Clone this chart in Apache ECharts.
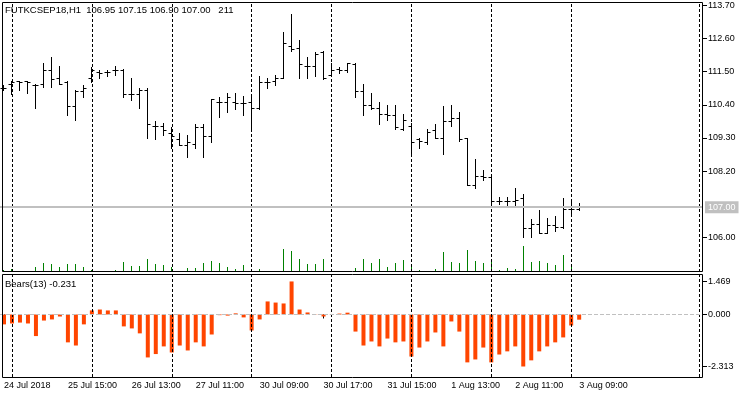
<!DOCTYPE html>
<html>
<head>
<meta charset="utf-8">
<script src="https://cdn.jsdelivr.net/npm/echarts@6/dist/echarts.min.js"></script>
<style>
  html, body { margin: 0; padding: 0; background: #fff; }
  #chart { width: 750px; height: 398px; }
</style>
</head>
<body>
<div id="chart"></div>
<script>
// 行情数据 (H1)
const symbol = 'FUTKCSEP18,H1'
const openP = [110.95, 111.10, 111.20, 111.20, 111.05, 111.10, 111.55, 111.30, 111.15, 110.35,
  110.85, 111.30, 111.50, 111.50, 111.55, 111.55, 110.75, 110.75, 110.90, 109.70,
  109.70, 109.45, 109.25, 109.05, 109.10, 109.65, 109.35, 110.50, 110.50, 110.50,
  110.45, 110.50, 110.30, 111.15, 111.20, 111.30, 112.35, 112.30, 111.70, 111.70,
  112.15, 111.40, 111.60, 111.55, 111.75, 110.85, 110.40, 110.30, 110.10, 110.05,
  109.60, 109.70, 109.25, 109.15, 109.55, 109.30, 109.85, 109.95, 109.30, 107.75,
  108.05, 108.00, 107.20, 107.20, 107.20, 107.30, 106.30, 106.45, 106.15, 106.40,
  106.35, 106.95, 106.95]
const highP = [111.05, 111.20, 111.20, 111.20, 111.10, 111.80, 112.00, 111.70, 111.20, 110.90,
  111.05, 111.65, 111.55, 111.55, 111.70, 111.60, 111.30, 110.95, 110.95, 109.85,
  109.80, 109.65, 109.45, 109.40, 109.75, 109.75, 110.60, 110.65, 110.80, 110.80,
  110.70, 110.65, 111.35, 111.30, 111.40, 112.80, 113.40, 112.55, 112.00, 112.15,
  112.20, 111.80, 111.65, 111.80, 111.80, 111.10, 110.80, 110.50, 110.40, 110.40,
  110.10, 109.80, 109.30, 109.60, 109.75, 110.35, 110.40, 110.15, 109.30, 108.60,
  108.25, 108.05, 107.35, 107.35, 107.65, 107.45, 106.60, 106.90, 106.65, 106.70,
  107.30, 107.20, 107.15]
const lowP = [110.90, 110.75, 110.90, 110.80, 110.30, 111.00, 111.00, 111.10, 110.05, 109.90,
  110.65, 111.15, 111.30, 111.35, 111.40, 110.65, 110.55, 110.30, 109.30, 109.25,
  109.40, 108.95, 109.05, 108.65, 108.95, 108.65, 109.15, 110.00, 110.15, 110.25,
  110.05, 109.55, 110.25, 110.95, 111.05, 111.30, 112.20, 111.30, 111.30, 111.35,
  111.25, 111.40, 111.45, 111.50, 110.65, 110.05, 110.25, 109.75, 109.90, 109.60,
  109.55, 108.80, 108.95, 109.10, 109.30, 108.75, 109.70, 109.20, 107.75, 107.65,
  107.90, 107.15, 107.10, 107.00, 107.05, 106.00, 106.00, 106.15, 106.15, 106.20,
  106.30, 106.70, 106.90]
const closeP = [110.95, 111.15, 111.15, 111.15, 111.05, 111.55, 111.25, 111.10, 110.35, 110.85,
  110.95, 111.55, 111.45, 111.50, 111.55, 110.75, 110.75, 110.90, 109.75, 109.70,
  109.55, 109.35, 109.05, 109.15, 109.65, 109.35, 110.60, 110.50, 110.65, 110.45,
  110.45, 110.30, 111.15, 111.15, 111.30, 112.45, 112.25, 111.75, 111.70, 112.10,
  111.30, 111.55, 111.55, 111.80, 110.85, 110.40, 110.30, 110.10, 110.05, 109.65,
  109.90, 109.15, 109.20, 109.50, 109.30, 109.85, 109.95, 109.25, 107.75, 108.05,
  108.00, 107.20, 107.20, 107.20, 107.25, 106.30, 106.45, 106.15, 106.40, 106.35,
  106.95, 106.95, 107.00]
const volumes = [380, 560, 190, 230, 950, 1720, 1530, 960, 1510, 1540,
  940, 390, 90, 200, 380, 1900, 1150, 1130, 2470, 1520,
  1330, 960, 180, 760, 770, 1710, 2090, 1700, 950, 570,
  1330, 580, 560, 190, 210, 4370, 3990, 2480, 1520, 1510,
  2470, 190, 100, 200, 760, 2460, 1710, 2470, 950, 1720,
  2280, 1330, 380, 190, 570, 3800, 1900, 1710, 4180, 2090,
  1710, 2280, 380, 760, 570, 4940, 1900, 2090, 1710, 1330,
  3230, 1140, 211]
// Bears Power(13)
const bears = [-0.44, -0.40, -0.36, -0.40, -0.96, -0.27, -0.22, -0.09, -1.24, -1.38,
  -0.44, 0.18, 0.22, 0.18, 0.18, -0.53, -0.62, -0.84, -1.91, -1.76,
  -1.42, -1.69, -1.38, -1.60, -1.24, -1.42, -0.89, -0.03, -0.05, 0.05,
  -0.13, -0.71, -0.22, 0.58, 0.53, 0.49, 1.469, 0.22, 0.09, 0.01,
  -0.09, 0.01, 0.04, 0.08, -0.76, -1.38, -1.20, -1.42, -1.07, -1.24,
  -1.20, -1.87, -1.47, -1.20, -0.80, -1.42, -0.31, -0.76, -2.13, -2.00,
  -1.47, -2.13, -1.78, -1.64, -1.42, -2.313, -2.04, -1.64, -1.42, -1.24,
  -1.02, -0.49, -0.231]
// 时间轴刻度
const tickIdx = [0, 8, 16, 24, 32, 40, 48, 56, 64, 72]
const tickLabels = ['24 Jul 2018', '25 Jul 15:00', '26 Jul 13:00', '27 Jul 11:00', '30 Jul 09:00',
  '30 Jul 17:00', '31 Jul 15:00', '1 Aug 13:00', '2 Aug 11:00', '3 Aug 09:00']
const gridIdx = [1, 11, 21, 31, 41, 51, 61, 71, 87]
const priceTicks = [106.00, 108.20, 109.30, 110.40, 111.50, 112.60, 113.70]
const bearsTicks = [1.469, 0, -2.313]
const slotCount = 88

const font = 'Liberation Sans, Arial, sans-serif'
const slots = Array.from({ length: slotCount }, (_, i) => String(i))
const last = closeP.length - 1
const header = symbol + '  ' + [openP[last], highP[last], lowP[last], closeP[last]]
  .map(v => v.toFixed(2)).join(' ') + '   ' + volumes[last]

const chart = echarts.init(document.getElementById('chart'))

// 竖向虚线网格
const gridLines = {
  silent: true,
  symbol: 'none',
  label: { show: false },
  lineStyle: { color: '#000', width: 1, type: [3, 2] },
  data: gridIdx.map(i => ({ xAxis: i }))
}

const option = {
  animation: false,
  backgroundColor: '#fff',
  textStyle: { fontFamily: font },
  title: [
    {
      text: header, left: 5, top: 5, padding: 0,
      textStyle: { fontSize: 9.5, fontWeight: 'normal', color: '#000', fontFamily: font }
    },
    {
      text: 'Bears(13) ' + bears[last].toFixed(3), left: 5, top: 279, padding: 0,
      textStyle: { fontSize: 9.5, fontWeight: 'normal', color: '#000', fontFamily: font }
    }
  ],
  grid: [
    { left: -1, top: 2, width: 704, height: 270 },
    { left: -1, top: 274, width: 704, height: 103 }
  ],
  xAxis: [
    {
      type: 'category', gridIndex: 0, data: slots,
      axisLine: { show: false }, axisTick: { show: false }, axisLabel: { show: false }, splitLine: { show: false }
    },
    {
      type: 'category', gridIndex: 1, data: slots,
      axisLine: { show: false },
      axisTick: {
        show: true, alignWithLabel: true, length: 4,
        interval: (idx) => tickIdx.includes(idx),
        lineStyle: { color: '#000' }
      },
      axisLabel: {
        interval: (idx) => tickIdx.includes(idx),
        formatter: (v) => {
          const k = tickIdx.indexOf(Number(v))
          return k >= 0 ? tickLabels[k] : ''
        },
        align: 'left', margin: 4, fontSize: 9, color: '#000', fontFamily: font
      },
      splitLine: { show: false }
    }
  ],
  yAxis: [
    {
      type: 'value', gridIndex: 0, position: 'right', min: 104.85, max: 113.81,
      axisLine: { show: false },
      axisTick: { show: true, length: 4, customValues: priceTicks, lineStyle: { color: '#000' } },
      axisLabel: {
        customValues: priceTicks, formatter: v => v.toFixed(2),
        margin: 5, fontSize: 9, color: '#000', fontFamily: font
      },
      splitLine: { show: false }
    },
    { type: 'value', gridIndex: 0, show: false, min: 0, max: 51300 },
    {
      type: 'value', gridIndex: 1, position: 'right', min: -2.78, max: 1.80,
      axisLine: { show: false },
      axisTick: { show: true, length: 4, customValues: bearsTicks, lineStyle: { color: '#000' } },
      axisLabel: {
        customValues: bearsTicks, formatter: v => v.toFixed(3),
        margin: 5, fontSize: 9, color: '#000', fontFamily: font
      },
      splitLine: { show: false }
    }
  ],
  series: [
    {
      name: 'volume', type: 'custom', xAxisIndex: 0, yAxisIndex: 1, z: 1,
      data: volumes.map((v, i) => [i, v]),
      encode: { x: 0, y: 1 },
      renderItem: (params, api) => {
        const i = api.value(0)
        const p0 = api.coord([i, 0])
        const p1 = api.coord([i, api.value(1)])
        const x = Math.floor(p0[0]) + 0.5
        return {
          type: 'line',
          shape: { x1: x, y1: Math.round(p0[1]), x2: x, y2: Math.round(p1[1]) },
          style: { stroke: '#008000', lineWidth: 1 }
        }
      },
      markLine: gridLines
    },
    {
      name: 'price', type: 'custom', xAxisIndex: 0, yAxisIndex: 0, z: 3,
      data: openP.map((o, i) => [i, o, highP[i], lowP[i], closeP[i]]),
      encode: { x: 0, y: [1, 2, 3, 4] },
      renderItem: (params, api) => {
        const i = api.value(0)
        const pO = api.coord([i, api.value(1)])
        const pH = api.coord([i, api.value(2)])
        const pL = api.coord([i, api.value(3)])
        const pC = api.coord([i, api.value(4)])
        const x = Math.floor(pO[0]) + 0.5
        const ry = v => Math.round(v) + 0.5
        const st = { stroke: '#000', lineWidth: 1 }
        return {
          type: 'group',
          children: [
            { type: 'line', shape: { x1: x, y1: Math.round(pH[1]), x2: x, y2: Math.round(pL[1]) + 1 }, style: st },
            { type: 'line', shape: { x1: x - 3, y1: ry(pO[1]), x2: x, y2: ry(pO[1]) }, style: st },
            { type: 'line', shape: { x1: x, y1: ry(pC[1]), x2: x + 3, y2: ry(pC[1]) }, style: st }
          ]
        }
      },
      markLine: {
        silent: true, symbol: 'none',
        lineStyle: { color: '#c0c0c0', width: 2, type: 'solid' },
        label: {
          show: true, position: 'end', distance: 2,
          formatter: p => Number(p.value).toFixed(2),
          backgroundColor: '#c0c0c0', color: '#fff', padding: [2, 3, 1, 3],
          fontSize: 9, fontFamily: font
        },
        data: [{ yAxis: closeP[last] }]
      }
    },
    {
      name: 'gridB', type: 'line', xAxisIndex: 1, yAxisIndex: 2, data: [], z: 1,
      markLine: gridLines
    },
    {
      name: 'Bears(13)', type: 'bar', xAxisIndex: 1, yAxisIndex: 2, z: 2,
      data: bears, barWidth: 4, itemStyle: { color: '#ff4500' },
      markLine: {
        silent: true, symbol: 'none', label: { show: false },
        lineStyle: { color: '#c0c0c0', width: 1, type: [4, 2] },
        data: [{ yAxis: 0 }]
      }
    }
  ],
  graphic: [
    { type: 'rect', z: 100, silent: true, shape: { x: 2.5, y: 2.5, width: 700, height: 269 }, style: { fill: 'none', stroke: '#000', lineWidth: 1 } },
    { type: 'rect', z: 100, silent: true, shape: { x: 2.5, y: 274.5, width: 700, height: 103 }, style: { fill: 'none', stroke: '#000', lineWidth: 1 } }
  ]
}

chart.setOption(option)
</script>
</body>
</html>
